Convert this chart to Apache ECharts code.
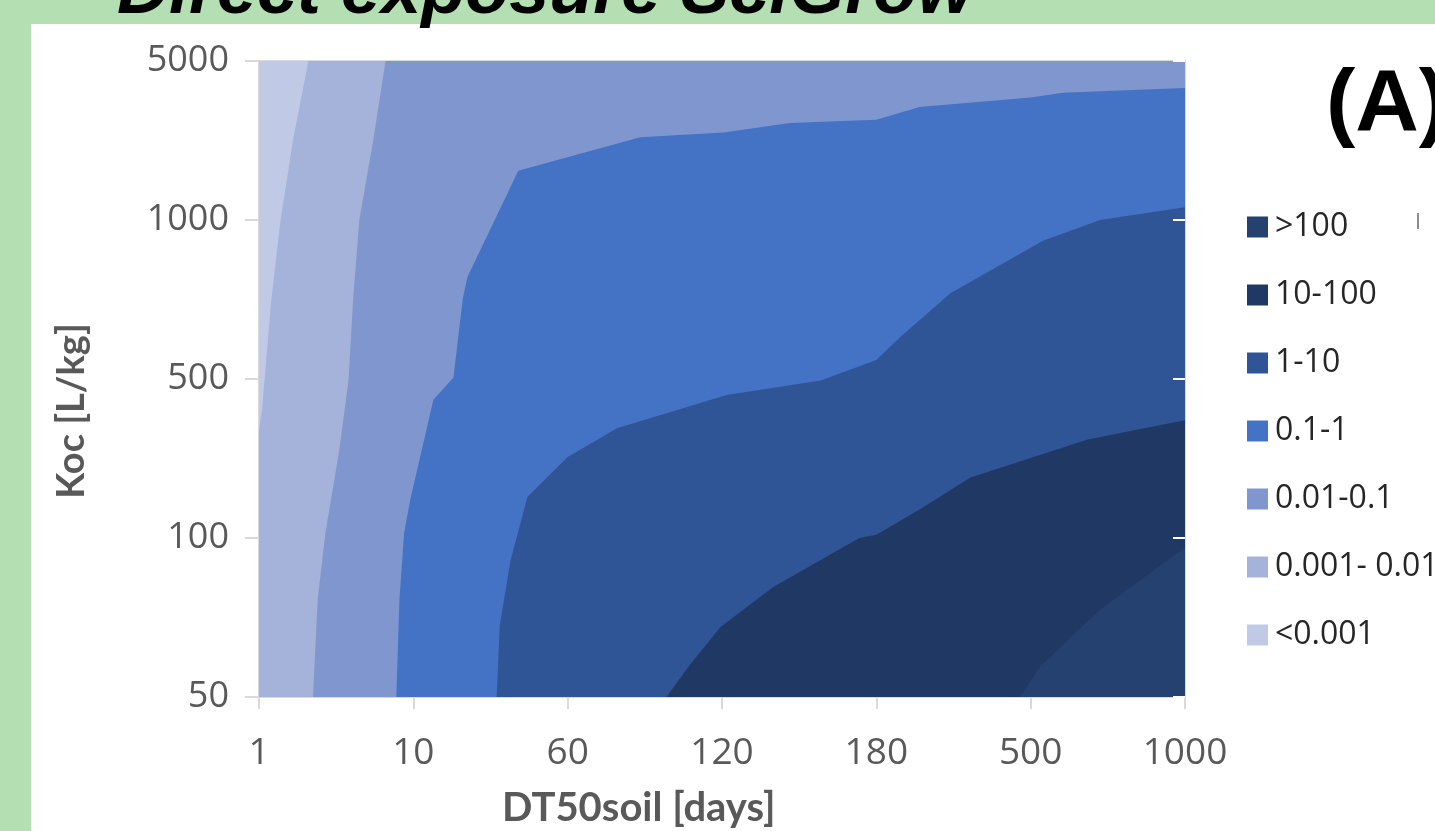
<!DOCTYPE html>
<html>
<head>
<meta charset="utf-8">
<script src="https://cdn.jsdelivr.net/npm/echarts@6/dist/echarts.min.js"></script>
<style>
  html, body { margin: 0; padding: 0; }
  #chart { width: 1435px; height: 831px; }
</style>
</head>
<body>
<div id="chart"></div>
<script>
// tick labels (categories are equally spaced)
var dt50Labels = ['1', '10', '60', '120', '180', '500', '1000'];
var kocLabels = ['50', '100', '500', '1000', '5000'];

// exposure classes, lightest first
var classNames = ['<0.001', '0.001- 0.01', '0.01-0.1', '0.1-1', '1-10', '10-100', '>100'];
var classColors = ['#c0cae6', '#a5b2d9', '#7f96cf', '#4472c4', '#2f5597', '#203864', '#25416f'];

// contour lines, [dt50 index, koc index]
var edge001 = [[0, 1.68], [0.02, 1.81], [0.08, 2.50], [0.14, 3.00], [0.22, 3.50], [0.32, 4]];
var edge01 = [[0.35, 0], [0.38, 0.61], [0.43, 1.03], [0.52, 1.55], [0.58, 1.99], [0.61, 2.50], [0.65, 3.00], [0.74, 3.50], [0.82, 4]];
var edge1 = [[0.89, 0], [0.91, 0.61], [0.94, 1.03], [0.98, 1.24], [1.13, 1.87], [1.26, 2.01], [1.32, 2.50], [1.35, 2.64],
    [1.68, 3.31], [2.47, 3.52], [3.01, 3.55], [3.44, 3.61], [4.00, 3.63], [4.28, 3.71], [5.00, 3.77], [5.21, 3.80], [6, 3.83]];
var edge10 = [[1.54, 0], [1.56, 0.45], [1.63, 0.86], [1.74, 1.26], [2.00, 1.51], [2.32, 1.69], [3.03, 1.90], [3.64, 1.99],
    [4.00, 2.12], [4.15, 2.26], [4.48, 2.54], [5.08, 2.87], [5.45, 3.00], [6, 3.08]];
var edge100 = [[2.64, 0], [2.79, 0.20], [2.99, 0.44], [3.33, 0.69], [3.89, 1.00], [4.00, 1.02], [4.28, 1.18], [4.61, 1.38], [5.37, 1.62], [6, 1.74]];
var edge1000 = [[4.93, 0], [5.06, 0.19], [5.45, 0.55], [6, 0.94]];

var xMax = dt50Labels.length - 1;
var yMax = kocLabels.length - 1;

// close each contour towards the lower right corner
var regions = [
    [[0, 0], [0, yMax], [xMax, yMax], [xMax, 0]],
    edge001.concat([[xMax, yMax], [xMax, 0], [0, 0]]),
    edge01.concat([[xMax, yMax], [xMax, 0]]),
    edge1.concat([[xMax, 0]]),
    edge10.concat([[xMax, 0]]),
    edge100.concat([[xMax, 0]]),
    edge1000.concat([[xMax, 0]])
];

var series = regions.map(function (pts, i) {
    return {
        name: classNames[i],
        type: 'custom',
        itemStyle: { color: classColors[i] },
        data: pts,
        renderItem: function (params, api) {
            if (params.dataIndex !== 0) return;
            var shape = pts.map(function (p) { return api.coord(p); });
            return {
                type: 'polygon',
                shape: { points: shape },
                style: { fill: api.visual('color') }
            };
        }
    };
});

var chart = echarts.init(document.getElementById('chart'));
chart.setOption({
    animation: false,
    backgroundColor: '#b3dfb3',
    grid: {
        left: 259, right: 250, top: 61, bottom: 134,
        show: true, borderColor: '#d9d9d9', borderWidth: 2
    },
    xAxis: {
        type: 'value', min: 0, max: xMax, interval: 1,
        axisLine: { lineStyle: { color: '#d9d9d9', width: 2 } },
        axisTick: { show: true, length: 12, lineStyle: { color: '#d9d9d9', width: 2 } },
        splitLine: { show: false },
        axisLabel: {
            margin: 38, color: '#595959', fontSize: 37, fontFamily: 'Open Sans',
            formatter: function (v) { return dt50Labels[v]; }
        }
    },
    yAxis: [{
        type: 'value', min: 0, max: yMax, interval: 1,
        axisLine: { show: true, lineStyle: { color: '#d9d9d9', width: 2 } },
        axisTick: { show: true, length: 14, lineStyle: { color: '#d9d9d9', width: 2 } },
        splitLine: { show: false },
        axisLabel: {
            margin: 30, color: '#595959', fontSize: 36, fontFamily: 'Open Sans',
            padding: [6, 0, 0, 0],
            formatter: function (v) { return kocLabels[v]; }
        }
    }, {
        type: 'value', min: 0, max: yMax, interval: 1, position: 'right', z: 5,
        axisLine: { show: false },
        axisTick: { show: true, inside: true, length: 12, lineStyle: { color: '#ffffff', width: 2 } },
        axisLabel: { show: false },
        splitLine: { show: false }
    }],
    legend: {
        orient: 'vertical',
        left: 1242, top: 206,
        icon: 'rect', itemWidth: 21, itemHeight: 21, itemGap: 36,
        selectedMode: false,
        data: classNames.slice().reverse(),
        textStyle: { fontSize: 32, lineHeight: 32, color: '#262626', fontFamily: 'Open Sans', padding: [0, 0, 0, 2] }
    },
    graphic: [
        { type: 'rect', z: -10, shape: { x: 31, y: 24, width: 1404, height: 807 }, style: { fill: '#ffffff' } },
        { type: 'text', left: 117, top: -43, style: {
            text: 'Direct exposure SciGrow', fill: '#000000',
            font: 'italic bold 72px "Liberation Sans"' } },
        { type: 'text', left: 1326, top: 62, style: {
            text: '(A)', fill: '#000000', font: 'bold 88px "Liberation Sans"' } },
        { type: 'text', left: 502, top: 788, style: {
            text: 'DT50soil [days]', fill: '#595959', font: 'bold 40px Lato' } },
        { type: 'text', x: 72, y: 411, rotation: Math.PI / 2, style: {
            text: 'Koc [L/kg]', fill: '#595959', font: 'bold 38px Lato',
            align: 'center', verticalAlign: 'middle' } },
        { type: 'rect', shape: { x: 1417, y: 213, width: 2, height: 16 }, style: { fill: '#8c8c8c' } }
    ],
    series: series
});
</script>
</body>
</html>
